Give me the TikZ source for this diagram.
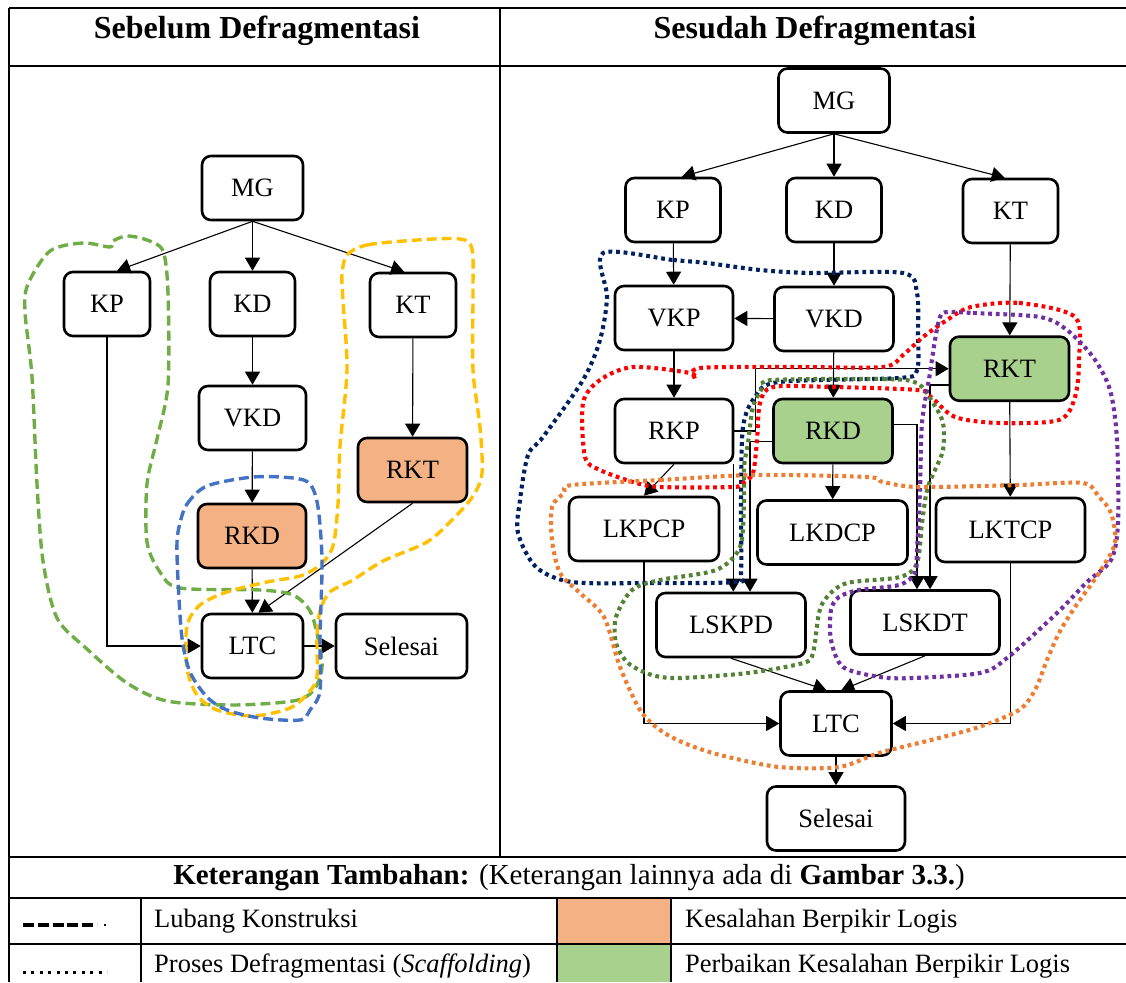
\documentclass[tikz,border=0pt]{standalone}
\usepackage{fontspec}
\setmainfont{Liberation Serif}
\usetikzlibrary{arrows.meta}
\definecolor{salah}{HTML}{F4B183}
\definecolor{benar}{HTML}{A9D18E}
\definecolor{kuning}{HTML}{FFC000}
\definecolor{biru}{HTML}{4472C4}
\definecolor{hijaumuda}{HTML}{70AD47}
\definecolor{birutua}{HTML}{002060}
\definecolor{merah}{HTML}{FF0000}
\definecolor{hijautua}{HTML}{548235}
\definecolor{ungu}{HTML}{7030A0}
\definecolor{jingga}{HTML}{ED7D31}
\begin{document}
\begin{tikzpicture}[x=1pt,y=-1pt,
  kotak/.style={draw,line width=2.6pt,rounded corners=9pt,minimum height=64pt,inner sep=0pt,fill=white,font=\fontsize{26.5}{30}\selectfont},
  panah/.style={line width=1.1pt,-{Triangle[length=13pt,width=15pt]}},
  lubang/.style={line width=3.4pt,dash pattern=on 10pt off 5pt},
  proses/.style={line width=4.1pt,dash pattern=on 3.8pt off 3.8pt},
  tabel/.style={line width=2pt},
  teks/.style={inner sep=0pt,font=\fontsize{26.5}{30}\selectfont}]
\useasboundingbox (0,0) rectangle (1126,982);
\fill[salah] (557,898) rectangle (670.5,944);
\fill[benar] (557,944) rectangle (670.5,982);
\draw[tabel] (9,8)--(1126,8) (9,66)--(1126,66) (9,857)--(1126,857) (9,898)--(1126,898) (9,944)--(1126,944);
\draw[tabel] (9,8)--(9,982) (500,8)--(500,857) (141,898)--(141,982) (557,898)--(557,982) (670.5,898)--(670.5,982);
\node[font=\fontsize{32}{36}\selectfont\bfseries] (judul1) at (257,31) {Sebelum Defragmentasi};
\node[font=\fontsize{32}{36}\selectfont\bfseries] (judul2) at (815,31) {Sesudah Defragmentasi};
\node[font=\fontsize{29}{32}\selectfont] (ket) at (569,878) {\textbf{Keterangan Tambahan:} (Keterangan lainnya ada di \textbf{Gambar 3.3.})};
\node[teks,anchor=west] (ket1) at (154,921) {Lubang Konstruksi};
\node[teks,anchor=west] (ket2) at (154,966) {Proses Defragmentasi (\textit{Scaffolding})};
\node[teks,anchor=west] (ket3) at (685,921) {Kesalahan Berpikir Logis};
\node[teks,anchor=west] (ket4) at (685,966) {Perbaikan Kesalahan Berpikir Logis};
\draw[line width=3.2pt,dash pattern=on 11pt off 3.8pt] (23,925)--(97,925);
\draw[line width=1.6pt] (104,925)--(106,925);
\draw[line width=3pt,dash pattern=on 3pt off 5.4pt] (23,972)--(107,972);

% sebelum
\node[kotak,minimum width=101pt] (mg1) at (252.5,188) {MG};
\node[kotak,minimum width=86pt] (kp1) at (107,304) {KP};
\node[kotak,minimum width=85pt] (kd1) at (252.5,304) {KD};
\node[kotak,minimum width=86pt] (kt1) at (413,305) {KT};
\node[kotak,minimum width=107pt] (vkd1) at (252.5,418) {VKD};
\node[kotak,minimum width=109pt,fill=salah] (rkt1) at (412.5,470) {RKT};
\node[kotak,minimum width=108pt,fill=salah] (rkd1) at (252,536) {RKD};
\node[kotak,minimum width=101pt] (ltc1) at (252.5,646) {LTC};
\node[kotak,minimum width=131pt] (sls1) at (401.5,646) {Selesai};
\draw[panah] (mg1.south)--(kp1.73);
\draw[panah] (mg1.south)--(kd1.north);
\draw[panah] (mg1.south)--(kt1.105);
\draw[panah] (kd1)--(vkd1);
\draw[panah] (vkd1)--(rkd1);
\draw[panah] (rkd1)--(ltc1);
\draw[panah] (kt1)--(rkt1);
\draw[panah] (rkt1.south)--(ltc1.80);
\draw[panah] (kp1.south) |- (ltc1.west);
\draw[panah] (ltc1)--(sls1);
\draw[lubang,hijaumuda] plot[smooth cycle,tension=0.5] coordinates {(110,247) (83,243) (50,251) (28,284) (25,312) (32,377) (37,484) (43,561) (57,618) (87,649) (127,683) (167,701) (233,705) (293,701) (313,691) (322,668) (318,638) (310,611) (293,595) (260,590) (180,588) (160,572) (147,542) (147,484) (157,439) (168,385) (168,293) (163,251) (147,240) (127,236) (113,241)};
\draw[lubang,kuning] plot[smooth cycle,tension=0.5] coordinates {(347,255) (367,245) (417,240) (460,239) (472,249) (473,293) (473,370) (480,427) (482,473) (473,496) (453,519) (427,542) (383,561) (353,580) (330,592) (320,611) (317,638) (317,676) (310,691) (290,708) (253,716) (217,710) (197,695) (187,668) (187,626) (200,605) (227,592) (267,582) (300,576) (320,565) (333,546) (338,504) (340,446) (347,370) (343,301) (342,274)};
\draw[lubang,biru] plot[smooth cycle,tension=0.5] coordinates {(180,523) (187,504) (207,486) (253,477) (293,478) (310,484) (318,507) (322,561) (320,638) (320,691) (310,710) (300,720) (260,718) (227,710) (207,697) (190,672) (182,638) (178,580) (177,542)};

% sesudah
\node[kotak,minimum width=111pt] (mg2) at (834,100.5) {MG};
\node[kotak,minimum width=95pt] (kp2) at (673,210) {KP};
\node[kotak,minimum width=95pt] (kd2) at (834,210) {KD};
\node[kotak,minimum width=95pt] (kt2) at (1010.5,211) {KT};
\node[kotak,minimum width=118pt] (vkp2) at (674,318) {VKP};
\node[kotak,minimum width=119pt] (vkd2) at (834,319) {VKD};
\node[kotak,minimum width=119pt,fill=benar] (rkt2) at (1009.5,368.7) {RKT};
\node[kotak,minimum width=118pt] (rkp2) at (674,431) {RKP};
\node[kotak,minimum width=119pt,fill=benar] (rkd2) at (833,431) {RKD};
\node[kotak,minimum width=150pt] (lkpcp2) at (644,529) {LKPCP};
\node[kotak,minimum width=150pt] (lkdcp2) at (832.5,532.5) {LKDCP};
\node[kotak,minimum width=149pt] (lktcp2) at (1010.5,530) {LKTCP};
\node[kotak,minimum width=149pt] (lskpd2) at (731,625) {LSKPD};
\node[kotak,minimum width=149pt] (lskdt2) at (925,622.5) {LSKDT};
\node[kotak,minimum width=111pt] (ltc2) at (836,723.5) {LTC};
\node[kotak,minimum width=138pt] (sls2) at (836,818.5) {Selesai};
\draw[panah] (mg2.south)--(kp2.75);
\draw[panah] (mg2.south)--(kd2.north);
\draw[panah] (mg2.south)--(kt2.100);
\draw[panah] (kp2)--(vkp2);
\draw[panah] (kd2)--(vkd2);
\draw[panah] (vkd2)--(vkp2);
\draw[panah] (kt2)--(rkt2);
\draw[panah] (vkp2)--(rkp2);
\draw[panah] (vkd2)--(rkd2);
\draw[panah] (rkp2.south)--(lkpcp2.north);
\draw[panah] (rkd2)--(lkdcp2);
\draw[panah] (rkt2)--(lktcp2);
\draw[panah] (rkp2.east)--++(21,0) |- (rkt2.west);
\draw[panah] (rkt2.195) -| ([xshift=5pt]lskdt2.north);
\draw[panah] (rkd2.6) -| ([xshift=-8pt]lskdt2.north);
\draw[panah] (rkd2.190) -| ([xshift=19pt]lskpd2.north);
\draw[panah] ([xshift=-1pt]rkp2.south east)--([xshift=-1pt]rkp2.south east |- lskpd2.north);
\draw[panah] (lskpd2.south)--(ltc2.106);
\draw[panah] (lskdt2.south)--(ltc2.81);
\draw[panah] (lkpcp2.south) |- (ltc2.west);
\draw[panah] (lktcp2.south) |- (ltc2.east);
\draw[panah] (ltc2)--(sls2);
\draw[proses,birutua] plot[smooth cycle,tension=0.5] coordinates {(603,253) (673,260) (707,263) (760,270) (811,273) (903,273) (917,293) (918,333) (917,370) (899,378) (779,382) (755,397) (743,427) (741,500) (741,573) (735,582) (650,583) (572,582) (536,567) (518,533) (520,500) (528,455) (543,437) (583,380) (600,340) (607,297)};
\draw[proses,merah] plot[smooth cycle,tension=0.5] coordinates {(971,307) (1019,303) (1075,317) (1079,360) (1075,397) (1059,420) (999,423) (955,417) (931,397) (917,390) (833,387) (773,387) (760,403) (757,440) (753,473) (743,483) (733,487) (660,487) (633,482) (600,470) (585,457) (583,403) (600,380) (633,367) (690,373) (695,379) (700,368) (800,367) (883,367) (903,355) (923,337) (947,320)};
\draw[proses,hijautua] plot[smooth cycle,tension=0.5] coordinates {(773,380) (883,379) (917,383) (933,403) (943,423) (943,450) (935,470) (927,490) (922,523) (917,563) (900,577) (847,583) (827,597) (819,613) (813,653) (803,663) (748,673) (680,678) (652,675) (628,663) (616,643) (616,617) (632,590) (660,580) (716,570) (740,547) (744,500) (744,467) (748,443) (753,407) (763,387)};
\draw[proses,ungu] plot[smooth cycle,tension=0.5] coordinates {(947,312) (973,313) (1040,317) (1067,330) (1093,357) (1110,390) (1117,440) (1118,523) (1111,560) (1087,582) (1057,613) (1007,658) (980,673) (913,678) (880,677) (843,667) (831,640) (831,610) (839,597) (859,590) (899,585) (915,573) (917,550) (920,490) (922,423) (930,373) (935,340) (940,317)};
\draw[proses,jingga] plot[smooth cycle,tension=0.5] coordinates {(572,485) (660,480) (755,475) (867,477) (883,482) (919,487) (1019,485) (1083,483) (1099,497) (1111,513) (1115,543) (1099,573) (1075,607) (1059,633) (1047,660) (1035,690) (1019,710) (979,727) (931,740) (879,753) (839,767) (779,767) (720,755) (684,743) (660,730) (640,710) (620,667) (604,617) (580,593) (560,573) (552,540) (552,507) (564,493)};
\end{tikzpicture}
\end{document}
